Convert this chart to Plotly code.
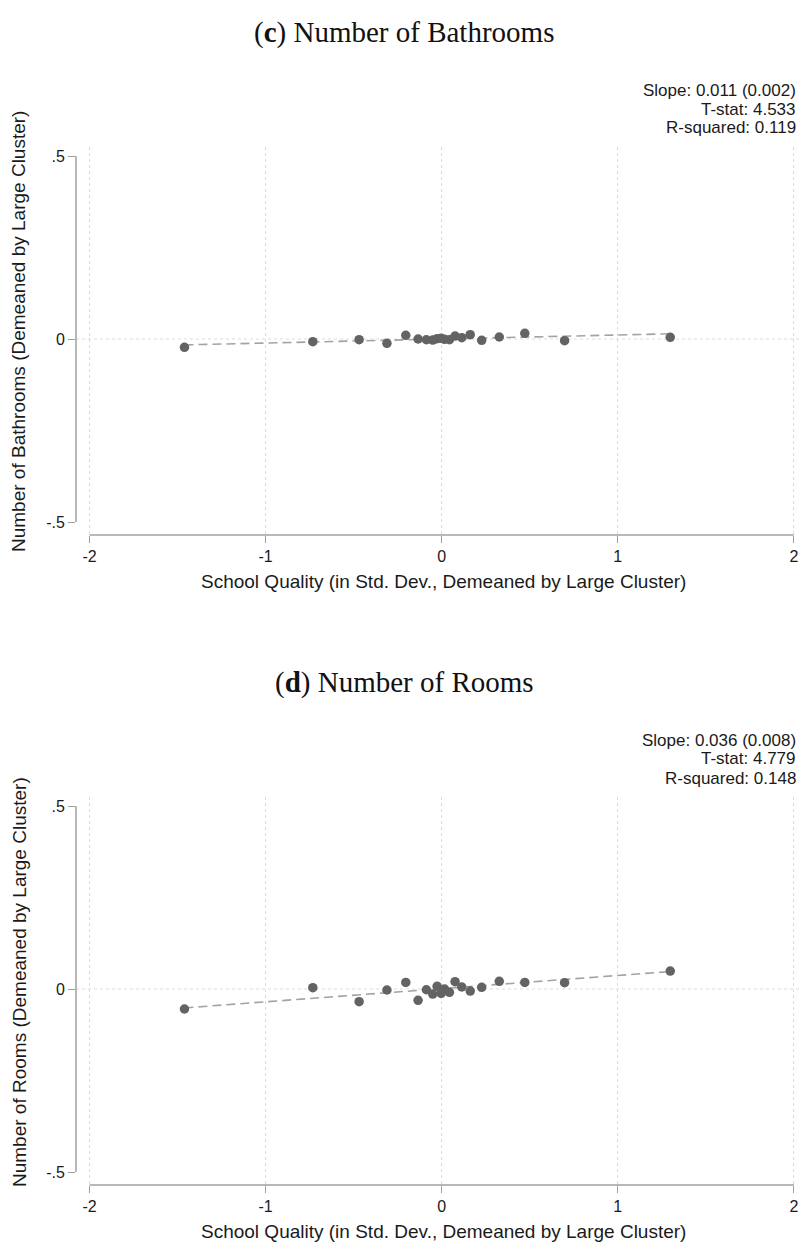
import plotly.graph_objects as go

# ---------------- data ----------------
school_quality = [-1.461, -0.732, -0.469, -0.311, -0.204, -0.134, -0.087, -0.051, -0.026, -0.003,
                  0.016, 0.044, 0.076, 0.114, 0.162, 0.227, 0.327, 0.472, 0.698, 1.298]
bathrooms = [-0.0228, -0.0073, -0.0018, -0.0118, 0.0100, 0.0000, -0.0020, -0.0030, 0.0010, 0.0020,
             -0.0010, -0.0020, 0.0080, 0.0036, 0.0118, -0.0036, 0.0055, 0.0155, -0.0046, 0.0046]
rooms = [-0.0546, 0.0036, -0.0346, -0.0027, 0.0180, -0.0310, -0.0020, -0.0137, 0.0073, -0.0120,
         0.0000, -0.0090, 0.0200, 0.0055, -0.0055, 0.0046, 0.0210, 0.0180, 0.0173, 0.0490]

fit_c = {"slope": 0.011, "intercept": 0.0}
fit_d = {"slope": 0.036, "intercept": 0.001}

stats_c = ["Slope: 0.011 (0.002)", "T-stat: 4.533", "R-squared: 0.119"]
stats_d = ["Slope: 0.036 (0.008)", "T-stat: 4.779", "R-squared: 0.148"]

titles = ["(<b>c</b>) Number of Bathrooms", "(<b>d</b>) Number of Rooms"]
ytitles = ["Number of Bathrooms (Demeaned by Large Cluster)",
           "Number of Rooms (Demeaned by Large Cluster)"]
xtitle = "School Quality (in Std. Dev., Demeaned by Large Cluster)"

x_ticks = [-2, -1, 0, 1, 2]
x_ticklabels = ["-2", "-1", "0", "1", "2"]
y_ticks = [-0.5, 0, 0.5]
y_ticklabels = ["-.5", "0", ".5"]

# ---------------- layout geometry ----------------
W, H = 805, 1243
SANS = "Liberation Sans, Arial, sans-serif"
SERIF = "Liberation Serif, Times New Roman, serif"
PT_COLOR = "#636363"
AX_COLOR = "#a0a0a0"
GRID_COLOR = "#dcdcdc"
TXT = "#1a1a1a"

def py(px):
    return 1 - px / H

def pxx(px):
    return px / W

PANEL_OFFSET = 650
panels = [
    dict(off=0, ys=bathrooms, fit=fit_c, stats=stats_c, title=titles[0], ytitle=ytitles[0]),
    dict(off=PANEL_OFFSET, ys=rooms, fit=fit_d, stats=stats_d, title=titles[1], ytitle=ytitles[1]),
]

PLOT_TOP, PLOT_BOTTOM = 147, 535
X_LEFT, X_RIGHT = 76, 800
X_RANGE = [-2.077, 2.035]
Y_RANGE = [-0.5355, 0.5246]

fig = go.Figure()
annotations = []
shapes = []

for i, p in enumerate(panels):
    xa = "x" if i == 0 else "x2"
    ya = "y" if i == 0 else "y2"
    xkey = "xaxis" if i == 0 else "xaxis2"
    ykey = "yaxis" if i == 0 else "yaxis2"
    off = p["off"]

    xs = school_quality
    fit_x = [min(xs), max(xs)]
    fit_y = [p["fit"]["intercept"] + p["fit"]["slope"] * v for v in fit_x]

    fig.add_trace(go.Scatter(x=fit_x, y=fit_y, mode="lines", xaxis=xa, yaxis=ya,
                             line=dict(color="#a3a3a3", width=1.6, dash="9px,5px"),
                             showlegend=False, hoverinfo="skip"))
    fig.add_trace(go.Scatter(x=xs, y=p["ys"], mode="markers", xaxis=xa, yaxis=ya,
                             marker=dict(size=9.5, color=PT_COLOR, line=dict(width=0)),
                             showlegend=False, hoverinfo="skip"))

    fig.update_layout({
        xkey: dict(domain=[pxx(X_LEFT), pxx(X_RIGHT)], range=X_RANGE, anchor=ya,
                   tickvals=x_ticks, ticktext=x_ticklabels, ticks="outside", ticklen=7,
                   tickcolor=AX_COLOR, tickwidth=1.2,
                   showgrid=True, gridcolor=GRID_COLOR, griddash="dot", gridwidth=1,
                   zeroline=False, showline=False,
                   tickfont=dict(family=SANS, size=16, color=TXT)),
        ykey: dict(domain=[py(PLOT_BOTTOM + off), py(PLOT_TOP + off)], range=Y_RANGE, anchor=xa,
                   tickvals=y_ticks, ticktext=y_ticklabels, ticks="outside", ticklen=7,
                   tickcolor=AX_COLOR, tickwidth=1.2,
                   showgrid=False, zeroline=False, showline=False,
                   tickfont=dict(family=SANS, size=16, color=TXT)),
    })

    # axis lines (Stata style: spanning only the labelled range)
    shapes.append(dict(type="line", xref=f"{xa} domain", yref=ya, x0=0, x1=0, y0=-0.5, y1=0.5,
                       line=dict(color=AX_COLOR, width=1.5)))
    shapes.append(dict(type="line", xref=xa, yref=f"{ya} domain", x0=-2, x1=2, y0=0, y1=0,
                       line=dict(color=AX_COLOR, width=1.5)))
    # horizontal grid line at 0
    shapes.append(dict(type="line", xref=f"{xa} domain", yref=ya, x0=0, x1=1, y0=0, y1=0,
                       line=dict(color=GRID_COLOR, width=1, dash="dot"), layer="below"))

    # panel title
    annotations.append(dict(text=p["title"], xref="paper", yref="paper", x=pxx(404), y=py(32 + off),
                            xanchor="center", yanchor="middle", showarrow=False,
                            font=dict(family=SERIF, size=29, color="#111111")))
    # stats text
    for j, s in enumerate(p["stats"]):
        annotations.append(dict(text=s, xref="paper", yref="paper", x=pxx(798), y=py(90 + 19 * j + off),
                                xanchor="right", yanchor="middle", showarrow=False,
                                font=dict(family=SANS, size=17, color=TXT)))
    # y title
    annotations.append(dict(text=p["ytitle"], xref="paper", yref="paper", x=pxx(19), y=py(332 + off),
                            xanchor="center", yanchor="middle", textangle=-90, showarrow=False,
                            font=dict(family=SANS, size=19, color=TXT)))
    # x title
    annotations.append(dict(text=xtitle, xref="paper", yref="paper", x=pxx(443), y=py(581 + off),
                            xanchor="center", yanchor="middle", showarrow=False,
                            font=dict(family=SANS, size=19, color=TXT)))

fig.update_layout(width=W, height=H, margin=dict(l=0, r=0, t=0, b=0),
                  paper_bgcolor="white", plot_bgcolor="white",
                  annotations=annotations, shapes=shapes, showlegend=False)

fig.write_html("out.html", config={"displayModeBar": False},
               post_script="document.body.style.margin='0px';")
